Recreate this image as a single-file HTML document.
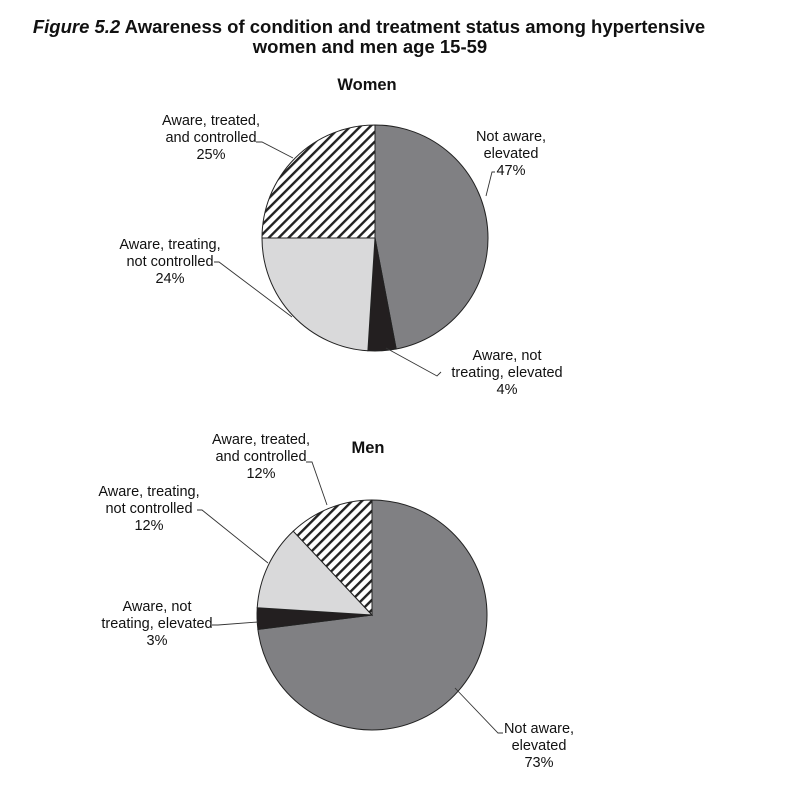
<!DOCTYPE html>
<html><head><meta charset="utf-8"><style>
body{margin:0;background:#fff;}
svg text{font-family:"Liberation Sans",sans-serif;fill:#111;}
</style></head><body>
<svg width="805" height="791" viewBox="0 0 805 791" xmlns="http://www.w3.org/2000/svg">
<defs>
<pattern id="hatch" patternUnits="userSpaceOnUse" width="7" height="7" patternTransform="rotate(45)">
<rect width="7" height="7" fill="#fff"/><rect x="0" y="0" width="2.4" height="7" fill="#222"/>
</pattern>
</defs>
<text x="369" y="33" text-anchor="middle" font-size="18.5" font-weight="bold"><tspan font-style="italic">Figure 5.2</tspan>  Awareness of condition and treatment status among hypertensive</text>
<text x="370" y="53" text-anchor="middle" font-size="18.5" font-weight="bold">women and men age 15-59</text>
<text x="367" y="90" text-anchor="middle" font-size="16.5" font-weight="bold">Women</text>
<text x="368" y="453" text-anchor="middle" font-size="16.5" font-weight="bold">Men</text>
<g id="women"></g>
<g id="men"></g>
<g font-size="14.5" stroke="none">
<g><text x="211" y="125" text-anchor="middle">Aware, treated,</text><text x="211" y="142" text-anchor="middle">and controlled</text><text x="211" y="159" text-anchor="middle">25%</text></g>
<g><text x="511" y="141" text-anchor="middle">Not aware,</text><text x="511" y="158" text-anchor="middle">elevated</text><text x="511" y="175" text-anchor="middle">47%</text></g>
<g><text x="170" y="249" text-anchor="middle">Aware, treating,</text><text x="170" y="266" text-anchor="middle">not controlled</text><text x="170" y="283" text-anchor="middle">24%</text></g>
<g><text x="507" y="360" text-anchor="middle">Aware, not</text><text x="507" y="377" text-anchor="middle">treating, elevated</text><text x="507" y="394" text-anchor="middle">4%</text></g>
<g><text x="261" y="444" text-anchor="middle">Aware, treated,</text><text x="261" y="461" text-anchor="middle">and controlled</text><text x="261" y="478" text-anchor="middle">12%</text></g>
<g><text x="149" y="496" text-anchor="middle">Aware, treating,</text><text x="149" y="513" text-anchor="middle">not controlled</text><text x="149" y="530" text-anchor="middle">12%</text></g>
<g><text x="157" y="611" text-anchor="middle">Aware, not</text><text x="157" y="628" text-anchor="middle">treating, elevated</text><text x="157" y="645" text-anchor="middle">3%</text></g>
<g><text x="539" y="733" text-anchor="middle">Not aware,</text><text x="539" y="750" text-anchor="middle">elevated</text><text x="539" y="767" text-anchor="middle">73%</text></g>
</g>
<g fill="none" stroke="#333" stroke-width="0.9">
<polyline points="256,142 262,142 293,158"/>
<polyline points="495,172 492,172 486,196"/>
<polyline points="441,372 437,376 386,348"/>
<polyline points="214,262 219,262 292,317"/>
<polyline points="306,462 312,462 327,505"/>
<polyline points="197,510 202,510 268,563"/>
<polyline points="212,625 218,625 258,622"/>
<polyline points="503,733 498,733 455,688"/>
</g>
</svg>
<script>
const categories = ["Not aware, elevated","Aware, not treating, elevated","Aware, treating, not controlled","Aware, treated, and controlled"];
const womenValues = [47,4,24,25];
const menValues = [73,3,12,12];
const fills = ["#808083","#231f20","#d9d9da","url(#hatch)"];
const NS="http://www.w3.org/2000/svg";
function drawPie(id, values, cx, cy, r, prefix){
  const g=document.getElementById(id);
  const total=values.reduce((a,b)=>a+b,0);
  let a0=0;
  values.forEach((v,i)=>{
    const a1=a0+v/total*2*Math.PI;
    const x0=cx+r*Math.sin(a0), y0=cy-r*Math.cos(a0);
    const x1=cx+r*Math.sin(a1), y1=cy-r*Math.cos(a1);
    const large=(a1-a0)>Math.PI?1:0;
    const p=document.createElementNS(NS,"path");
    p.setAttribute("d",`M${cx},${cy} L${x0},${y0} A${r},${r} 0 ${large} 1 ${x1},${y1} Z`);
    p.setAttribute("fill",fills[i]);
    p.setAttribute("stroke","#222");
    p.setAttribute("stroke-width","1");
    
    
    g.appendChild(p);
    a0=a1;
  });
}
drawPie("women", womenValues, 375, 238, 113, "women");
drawPie("men", menValues, 372, 615, 115, "men");
</script>
</body></html>
